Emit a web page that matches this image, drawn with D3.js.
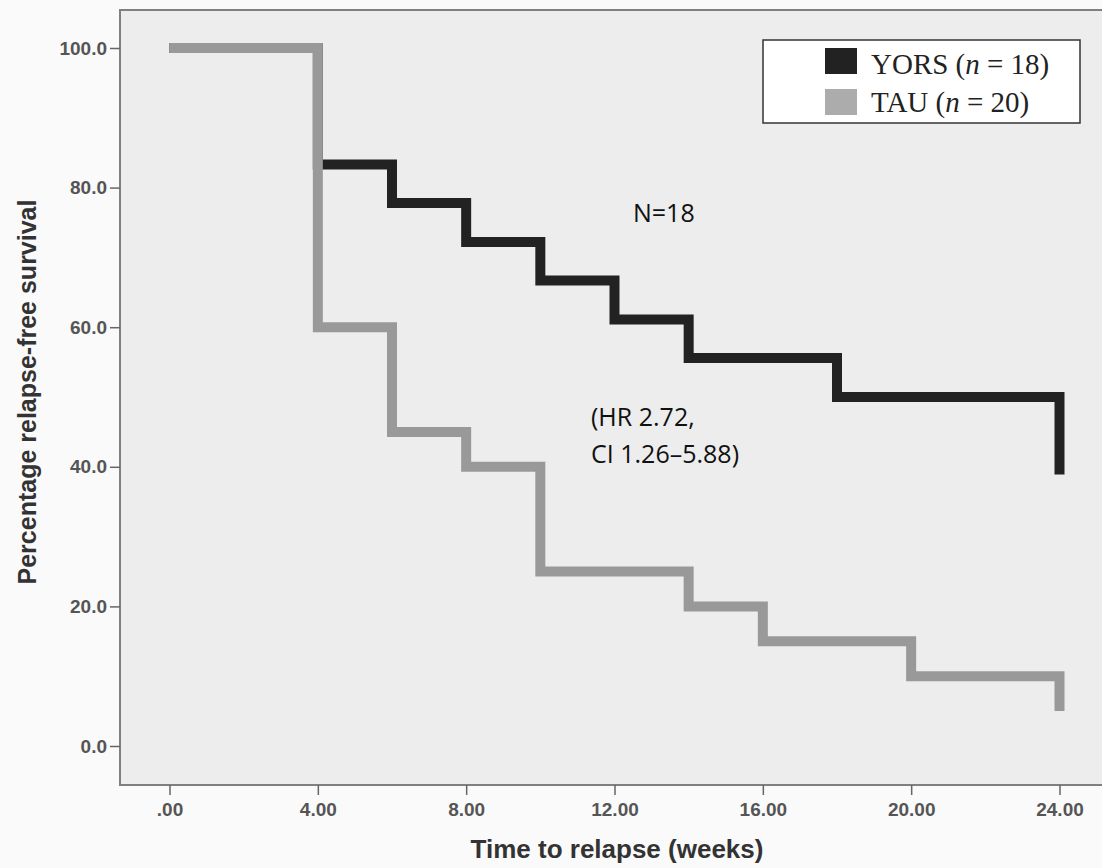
<!DOCTYPE html>
<html>
<head>
<meta charset="utf-8">
<script src="https://cdn.jsdelivr.net/npm/d3@7"></script>
<style>
  html, body { margin: 0; padding: 0; background: #fafafa; }
  svg { display: block; }
</style>
</head>
<body>
<div id="chart"></div>
<script>
// survival data (weeks, percent)
const yorsTimes = [0, 4, 6, 8, 10, 12, 14, 18, 24];
const yorsValues = [100, 83.3, 77.8, 72.2, 66.7, 61.1, 55.6, 50.0, 38.9];
const tauTimes = [0, 4, 6, 8, 10, 14, 16, 20, 24];
const tauValues = [100, 60, 45, 40, 25, 20, 15, 10, 5];

const xTicks = [0, 4, 8, 12, 16, 20, 24];
const yTicks = [0, 20, 40, 60, 80, 100];
const legendNames = ["YORS", "TAU"];
const legendNs = [18, 20];

const W = 1102, H = 868;
const frame = {left: 120, top: 10, right: 1110, bottom: 785};

let svg = d3.select("#chart").append("svg")
    .attr("width", W)
    .attr("height", H);

let x = d3.scaleLinear().domain([0, 24]).range([169.5, 1059.5]);
let y = d3.scaleLinear().domain([0, 100]).range([746, 48]);

// plot area
svg.append("rect")
    .attr("x", frame.left)
    .attr("y", frame.top)
    .attr("width", frame.right - frame.left)
    .attr("height", frame.bottom - frame.top)
    .attr("fill", "#ededed")
    .attr("stroke", "#808080")
    .attr("stroke-width", 2);

// axes
let yAxis = svg.append("g")
    .attr("transform", "translate(" + frame.left + ",0)")
    .call(d3.axisLeft(y).tickValues(yTicks).tickFormat(d3.format(".1f"))
        .tickSize(10).tickPadding(3));

let xAxis = svg.append("g")
    .attr("transform", "translate(0," + frame.bottom + ")")
    .call(d3.axisBottom(x).tickValues(xTicks)
        .tickFormat(d => d === 0 ? ".00" : d.toFixed(2))
        .tickSize(10).tickPadding(8));

[xAxis, yAxis].forEach(a => {
    a.select(".domain").remove();
    a.selectAll(".tick line").attr("stroke", "#666").attr("stroke-width", 1.5);
    a.selectAll(".tick text")
        .attr("fill", "#555")
        .style("font-family", "'Liberation Sans', Arial, sans-serif")
        .style("font-weight", "bold")
        .style("font-size", "19px");
});

// step lines
let line = d3.line()
    .x(d => x(d[0]))
    .y(d => y(d[1]))
    .curve(d3.curveStepAfter);

let series = [
    {pts: d3.zip(yorsTimes, yorsValues), color: "#222222"},
    {pts: d3.zip(tauTimes, tauValues), color: "#999999"}
];

svg.selectAll("path.km")
    .data(series)
    .enter()
    .append("path")
    .attr("class", "km")
    .attr("d", d => line(d.pts))
    .attr("fill", "none")
    .attr("stroke", d => d.color)
    .attr("stroke-width", 10)
    .attr("stroke-linejoin", "miter")
    .attr("stroke-linecap", "butt");

// legend
let legend = svg.append("g");
legend.append("rect")
    .attr("x", 763).attr("y", 40)
    .attr("width", 317).attr("height", 83)
    .attr("fill", "#ffffff")
    .attr("stroke", "#333")
    .attr("stroke-width", 1.5);

let swatchColors = ["#222222", "#acacac"];
let items = legend.selectAll("g.item")
    .data(legendNames)
    .enter()
    .append("g")
    .attr("class", "item")
    .attr("transform", (d, i) => "translate(825," + (48 + i * 41) + ")");

items.append("rect")
    .attr("width", 32).attr("height", 26)
    .attr("fill", (d, i) => swatchColors[i]);

let lt = items.append("text")
    .attr("x", 46).attr("y", (d, i) => i === 0 ? 26 : 23)
    .attr("fill", "#222")
    .style("font-family", "'Liberation Serif', 'Times New Roman', serif")
    .style("font-size", "29px");
lt.append("tspan").text(d => d + " (");
lt.append("tspan").style("font-style", "italic").text("n");
lt.append("tspan").text((d, i) => " = " + legendNs[i] + ")");

// annotations
let noteFont = "'Open Sans', 'Liberation Sans', sans-serif";
let notes = [
    {t: "N=18", x: 633, y: 222},
    {t: "(HR 2.72,", x: 591, y: 426},
    {t: "CI 1.26\u20135.88)", x: 591, y: 463}
];
svg.selectAll("text.note")
    .data(notes)
    .enter()
    .append("text")
    .attr("class", "note")
    .attr("x", d => d.x)
    .attr("y", d => d.y)
    .attr("fill", "#111")
    .style("font-family", noteFont)
    .style("font-size", "25px")
    .text(d => d.t);

// axis titles
svg.append("text")
    .attr("x", 617).attr("y", 858)
    .attr("text-anchor", "middle")
    .attr("fill", "#333")
    .style("font-family", "'Liberation Sans', Arial, sans-serif")
    .style("font-weight", "bold")
    .style("font-size", "26px")
    .text("Time to relapse (weeks)");

svg.append("text")
    .attr("transform", "translate(36,392) rotate(-90)")
    .attr("text-anchor", "middle")
    .attr("fill", "#333")
    .style("font-family", "'Liberation Sans', Arial, sans-serif")
    .style("font-weight", "bold")
    .style("font-size", "25px")
    .text("Percentage relapse-free survival");
</script>
</body>
</html>
